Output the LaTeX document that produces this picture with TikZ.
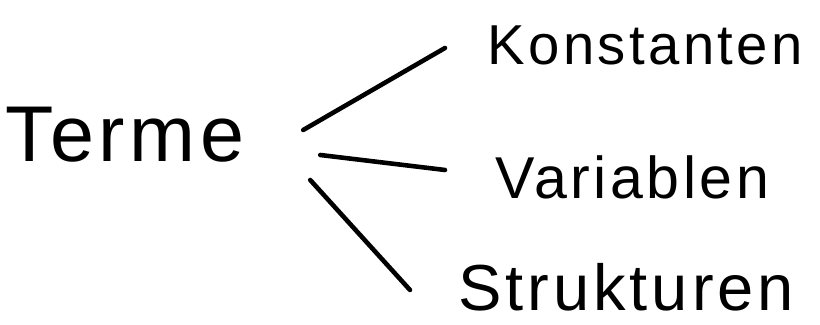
\documentclass[tikz,border=0pt]{standalone}
\usepackage{fontspec}
\setmainfont{Liberation Sans}[LetterSpace=6]
\usetikzlibrary{calc}

\begin{document}
\begin{tikzpicture}[x=0.01cm,y=-0.01cm,
  word/.style={anchor=west,inner sep=0pt,font=\fontsize{16}{19}\selectfont},
  stroke/.style={line width=1.3pt,line cap=round}]
\useasboundingbox (0,0) rectangle (820,325);
\node[word,font=\fontsize{22.5}{27}\selectfont] (terme) at (5,135) {Terme};
\node[word] (konst) at (487,45) {Konstanten};
\node[word,font=\fontsize{16.8}{20}\selectfont] (var) at (495,177) {Variablen};
\node[word,font=\fontsize{18.5}{22}\selectfont] (strukt) at (458,287) {Strukturen};
% Aeste
\draw[stroke] ($(terme.east)+(58,-5)$) -- ($(konst.west)+(-42,3)$);
\draw[stroke] ($(terme.east)+(75,20)$) -- ($(var.west)+(-50,-7)$);
\draw[stroke] ($(terme.east)+(65,45)$) -- ($(strukt.west)+(-48,3)$);
\end{tikzpicture}
\end{document}
